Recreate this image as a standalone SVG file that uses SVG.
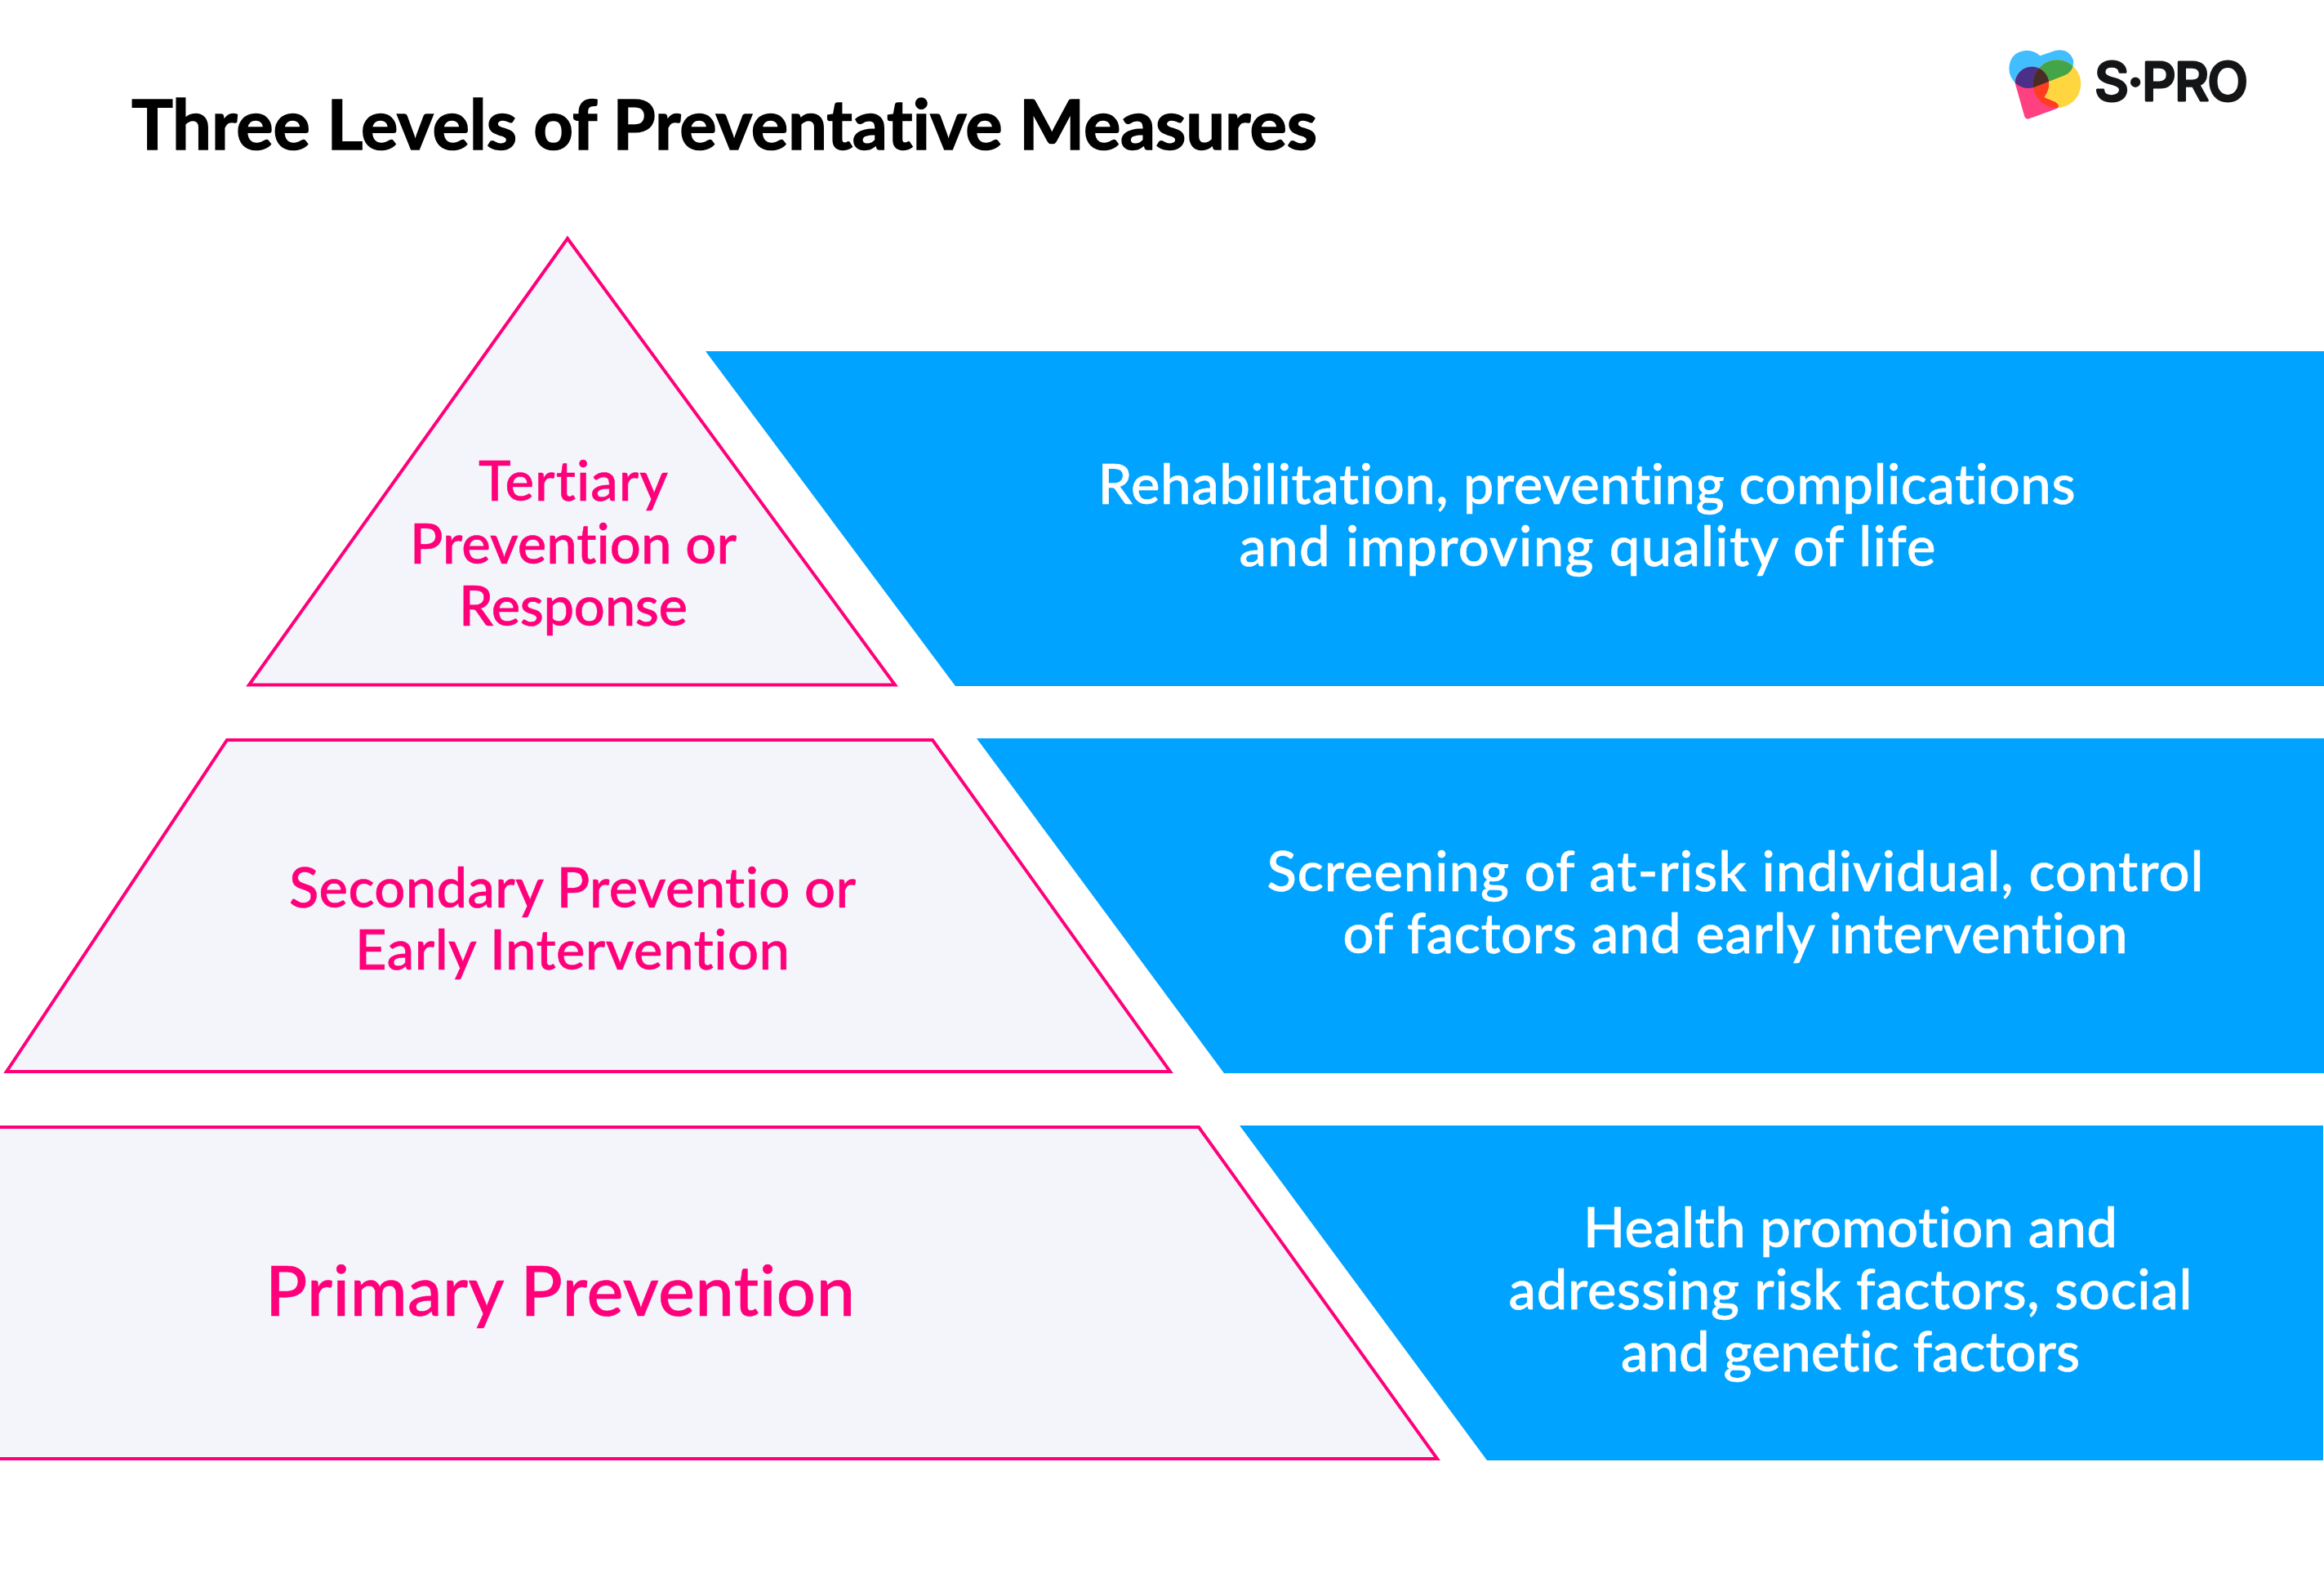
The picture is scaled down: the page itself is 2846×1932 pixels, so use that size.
<svg xmlns="http://www.w3.org/2000/svg" width="2846" height="1932" viewBox="0 0 2846 1932">
<defs>
<style>
text{font-family:"Lato","Noto Sans",sans-serif;text-anchor:middle;font-variant-ligatures:none}
.lvl{fill:#F3F5FB;stroke:#FF007A;stroke-width:4}
.box{fill:#00A3FF}
.p{fill:#FF007A;stroke:#FF007A;stroke-width:0.6;font-size:67px;font-weight:500}
.w{fill:#FFFFFF;stroke:#FFFFFF;stroke-width:0.6;font-size:67px;font-weight:500}
</style>
<path id="lb" d="M235,85 L290,66 Q340,55 357,100 Q362,140 325,157 L210,202 Q175,210 150,190 Q120,165 121,130 Q125,70 185,65 Q215,65 235,85 Z"/>
<circle id="ly" cx="297" cy="188" r="88"/>
<path id="lp" d="M143,185 A62,62 0 0 1 267,190 C267,210 258,225 250,238 L292,256 Q308,268 298,278 L195,316 Q183,320 178,308 Z"/>
<clipPath id="cb"><use href="#lb"/></clipPath>
<clipPath id="cy"><use href="#ly"/></clipPath>
</defs>
<rect width="2846" height="1932" fill="#FFFFFF"/>
<text x="887" y="183" textLength="1452" style="font-size:85px;font-weight:700;fill:#000;stroke:#000;stroke-width:1.5">Three Levels of Preventative Measures</text>
<g id="logo">
<g transform="translate(2420,40) scale(0.3333)">
<use href="#lb" fill="#40BEFF"/>
<use href="#ly" fill="#FFD640"/>
<use href="#lp" fill="#FF4081"/>
<g clip-path="url(#cb)"><use href="#ly" fill="#43A547"/></g>
<g clip-path="url(#cb)"><use href="#lp" fill="#4A3088"/></g>
<g clip-path="url(#cy)"><use href="#lp" fill="#FF3D20"/></g>
<g clip-path="url(#cb)"><g clip-path="url(#cy)"><use href="#lp" fill="#472D26"/></g></g>
</g>
<text x="2659" y="123" textLength="188" style="font-size:65px;font-weight:500;font-family:Inter,sans-serif;fill:#141517;stroke:#141517;stroke-width:3;stroke-linejoin:round">S·PRO</text>
</g>
<g id="tertiary">
<polygon class="lvl" points="695,292 1096,838.5 305,838.5"/>
<text class="p" x="702" y="613" textLength="232">Tertiary</text>
<text class="p" x="702" y="690" textLength="400">Prevention or</text>
<text class="p" x="702" y="766" textLength="280">Response</text>
</g>
<g id="secondary">
<polygon class="lvl" points="278,906 1142,906 1433,1312 8,1312"/>
<text class="p" x="701" y="1111" textLength="694">Secondary Preventio or</text>
<text class="p" x="701" y="1187" textLength="532">Early Intervention</text>
</g>
<g id="primary">
<polygon class="lvl" points="-10,1380 1468,1380 1760,1786 -10,1786"/>
<text class="p" x="686" y="1611" textLength="722" style="font-size:85px">Primary Prevention</text>
</g>
<g id="tertiary-box">
<polygon class="box" points="864,430 2846,430 2846,840 1170,840"/>
<text class="w" x="1943" y="617" textLength="1197">Rehabilitation, preventing complications</text>
<text class="w" x="1944" y="693" textLength="853">and improving quality of life</text>
</g>
<g id="secondary-box">
<polygon class="box" points="1196,904 2846,904 2846,1314 1499,1314"/>
<text class="w" x="2125" y="1091" textLength="1147">Screening of at-risk individual, control</text>
<text class="w" x="2125" y="1167" textLength="961">of factors and early intervention</text>
</g>
<g id="primary-box">
<polygon class="box" points="1518,1378 2845,1378 2845,1788 1821,1788"/>
<text class="w" x="2266" y="1527" textLength="654">Health promotion and</text>
<text class="w" x="2266" y="1603" textLength="837">adressing risk factors, social</text>
<text class="w" x="2266" y="1679" textLength="562">and genetic factors</text>
</g>
</svg>
